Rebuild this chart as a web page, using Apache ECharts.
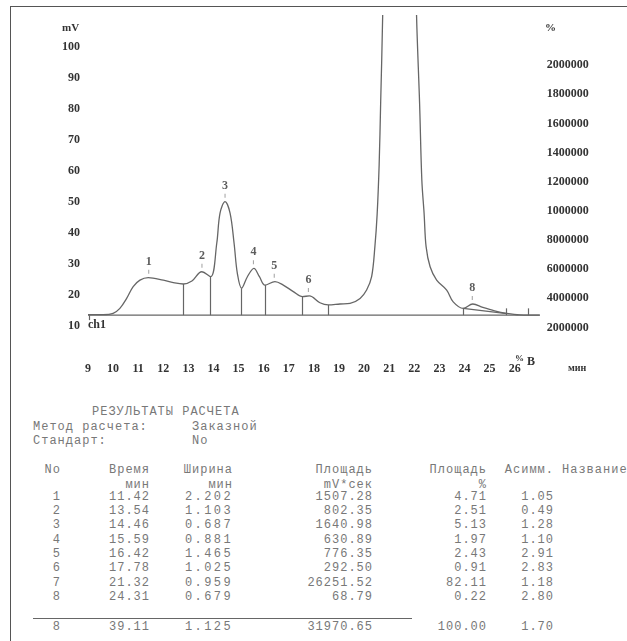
<!DOCTYPE html>
<html>
<head>
<meta charset="utf-8">
<script src="https://cdn.jsdelivr.net/npm/echarts@6/dist/echarts.min.js"></script>
<style>
  html, body { margin: 0; padding: 0; background: #fff; }
  #page { position: relative; width: 627px; height: 641px; overflow: hidden; }
  #frame { position: absolute; left: 10px; top: 6px; width: 700px; height: 700px;
           border-left: 1.5px solid #555; border-top: 1.5px solid #555; }
  #chart { position: absolute; left: 0; top: 0; width: 627px; height: 390px; }
  .t { position: absolute; font-family: "Liberation Mono", monospace; font-size: 12px;
       letter-spacing: 1px; color: #787878; line-height: 14px; white-space: pre; }
  #rule { position: absolute; left: 33px; top: 617.5px; width: 379px; height: 0;
          border-top: 1.5px solid #666; }
</style>
</head>
<body>
<div id="page">
  <div id="frame"></div>
  <div id="chart"></div>
  <div id="rule"></div>
</div>
<script>
// хроматограмма: время (мин) и сигнал (mV)
var curveTime = [9.0, 9.6, 10.0, 10.27, 10.54, 10.8, 11.07, 11.4, 12.0, 12.4, 12.8, 13.14, 13.53, 13.89,
  14.13, 14.26, 14.46, 14.66, 14.82, 14.95, 15.12, 15.35, 15.61, 15.83, 16.05, 16.45, 16.78, 17.18,
  17.55, 17.82, 18.24, 18.57, 19.04, 19.44, 19.84, 20.1, 20.3, 20.43, 20.52, 20.6, 20.66, 20.74, 20.85,
  21.0, 21.32, 21.6, 21.9, 22.09, 22.21, 22.3, 22.39, 22.47, 22.63, 22.89, 23.29, 23.55, 23.95, 24.33,
  24.73, 25.2, 25.68, 26.2, 27.0];
var curveMv = [13.6, 13.6, 14.0, 15.6, 18.8, 22.6, 24.7, 25.5, 24.7, 23.9, 23.45, 24.4, 27.4, 25.8,
  36.6, 46.3, 50.0, 46.3, 36.6, 26.9, 22.1, 25.8, 28.5, 25.8, 23.1, 24.2, 23.1, 21.0,
  19.4, 19.6, 17.4, 16.7, 17.0, 17.2, 18.8, 21.5, 25.8, 35.5, 46.0, 62.0, 82.0, 110.0, 170.0,
  290.0, 440.0, 330.0, 180.0, 110.0, 82.0, 57.0, 46.3, 35.5, 29.0, 24.7, 21.5, 17.7, 15.6, 17.0,
  15.9, 14.8, 14.0, 13.5, 13.4];

var baseMv = 13.4;
var dropTime = [12.8, 13.89, 15.12, 16.05, 17.55, 18.57, 23.95, 25.68, 26.54];
var dropTop = [23.45, 25.8, 22.1, 23.1, 19.4, 16.7, 15.6, 15.6, 15.6];
var startTick = [9.05, 11.8];
var peak8Base = [[23.95, 15.6], [25.68, 13.9]];

var peakLabel = ['1', '2', '3', '4', '5', '6', '8'];
var peakTime = [11.42, 13.54, 14.46, 15.59, 16.42, 17.78, 24.31];
var peakTop = [25.5, 27.4, 50.0, 28.5, 24.2, 19.6, 17.0];

var rightLabels = ['2000000', '4000000', '6000000', '8000000', '1000000',
  '1200000', '1400000', '1600000', '1800000', '2000000'];

// таблица результатов
var tabNo = [1, 2, 3, 4, 5, 6, 7, 8];
var tabTime = [11.42, 13.54, 14.46, 15.59, 16.42, 17.78, 21.32, 24.31];
var tabWidth = [2.202, 1.103, 0.687, 0.881, 1.465, 1.025, 0.959, 0.679];
var tabArea = [1507.28, 802.35, 1640.98, 630.89, 776.35, 292.50, 26251.52, 68.79];
var tabPct = [4.71, 2.51, 5.13, 1.97, 2.43, 0.91, 82.11, 0.22];
var tabAsym = [1.05, 0.49, 1.28, 1.10, 2.91, 2.83, 1.18, 2.80];
var total = { no: 8, time: 39.11, width: 1.125, area: 31970.65, pct: 100.00, asym: 1.70 };

var chart = echarts.init(document.getElementById('chart'));
var lbl = { fontFamily: 'Liberation Serif', fontWeight: 'bold', fontSize: 12, color: '#333' };

var curve = curveTime.map(function (t, i) { return [t, curveMv[i]]; });
var drops = dropTime.map(function (t, i) {
  return [{ coord: [t, baseMv] }, { coord: [t, dropTop[i]] }];
});
drops.push([{ coord: [startTick[0], baseMv] }, { coord: [startTick[0], startTick[1]] }]);

var option = {
  animation: false,
  grid: { left: 88, right: 87.2, top: 15.7, bottom: 33.3 },
  xAxis: {
    type: 'value', min: 9, max: 27, interval: 1,
    axisLine: { show: false }, axisTick: { show: false }, splitLine: { show: false },
    axisLabel: Object.assign({ margin: 6, showMaxLabel: false }, lbl)
  },
  yAxis: [
    {
      type: 'value', min: 0, max: 110, interval: 10,
      axisLine: { show: false }, axisTick: { show: false }, splitLine: { show: false },
      axisLabel: Object.assign({
        margin: 8,
        formatter: function (v) { return (v >= 10 && v <= 100) ? v : ''; }
      }, lbl)
    },
    {
      type: 'value', position: 'right', min: -1, max: 10.694, interval: 1,
      axisLine: { show: false }, axisTick: { show: false }, splitLine: { show: false },
      axisLabel: Object.assign({
        margin: 7, showMaxLabel: false,
        formatter: function (v) { return rightLabels[v] || ''; }
      }, lbl)
    }
  ],
  series: [
    {
      type: 'line', data: curve, smooth: 0.35, symbol: 'none', clip: true, z: 3,
      lineStyle: { color: '#666', width: 1.3 }
    },
    {
      type: 'line', data: [[9, baseMv], [27, baseMv]], symbol: 'none', z: 2,
      lineStyle: { color: '#666', width: 1.3 },
      markLine: {
        silent: true, symbol: ['none', 'none'], label: { show: false },
        lineStyle: { color: '#666', width: 1.2, type: 'solid' },
        data: drops
      }
    },
    {
      type: 'line', data: peak8Base, symbol: 'none', z: 2,
      lineStyle: { color: '#666', width: 1.1 }
    },
    {
      type: 'scatter', z: 4,
      data: peakTime.map(function (t, i) { return [t, peakTop[i]]; }),
      symbol: 'rect', symbolSize: [1, 4], symbolOffset: [0, -6],
      itemStyle: { color: '#888' },
      label: {
        show: true, position: 'top', distance: 2, fontSize: 12,
        fontFamily: 'Liberation Serif', fontWeight: 'bold', color: '#333',
        formatter: function (p) { return peakLabel[p.dataIndex]; }
      }
    }
  ],
  graphic: [
    { type: 'text', x: 62, y: 28, style: { text: 'mV', font: 'bold 11px "Liberation Serif"', fill: '#333', verticalAlign: 'middle' } },
    { type: 'text', x: 545, y: 28, style: { text: '%', font: 'bold 11px "Liberation Serif"', fill: '#333', verticalAlign: 'middle' } },
    { type: 'text', x: 88, y: 325, style: { text: 'ch1', font: 'bold 12px "Liberation Serif"', fill: '#333', verticalAlign: 'middle' } },
    { type: 'text', x: 515, y: 359, style: { text: '%', font: 'bold 9px "Liberation Serif"', fill: '#333', verticalAlign: 'middle' } },
    { type: 'text', x: 527, y: 362, style: { text: 'B', font: 'bold 12px "Liberation Serif"', fill: '#333', verticalAlign: 'middle' } },
    { type: 'text', x: 568, y: 368, style: { text: 'мин', font: 'bold 10px "Liberation Serif"', fill: '#333', verticalAlign: 'middle' } }
  ]
};
chart.setOption(option);

// текстовый блок под графиком
var page = document.getElementById('page');
function put(text, x, base, right, spacing) {
  var d = document.createElement('div');
  d.className = 't';
  d.textContent = text;
  d.style.top = (base - 10.2) + 'px';
  if (right) d.style.right = (627 - x - 1) + 'px';
  else d.style.left = x + 'px';
  if (spacing) d.style.letterSpacing = spacing + 'px';
  page.appendChild(d);
}
var colX = [60, 149, 232, 372, 486, 553];

put('РЕЗУЛЬТАТЫ РАСЧЕТА', 92, 415);
put('Метод расчета:', 33, 430);
put('Заказной', 192, 430);
put('Стандарт:', 33, 444);
put('No', 192, 444);

var hdr1 = ['No', 'Время', 'Ширина', 'Площадь', 'Площадь', 'Асимм.'];
var hdr2 = ['', 'мин', 'мин', 'mV*сек', '%', ''];
hdr1.forEach(function (h, i) { put(h, colX[i], 473.3, true); });
put('Название', 562, 473.3);
hdr2.forEach(function (h, i) { if (h) put(h, colX[i], 488.3, true); });

function row(vals, base) {
  put(String(vals[0]), colX[0], base, true);
  put(vals[1].toFixed(2), colX[1], base, true);
  put(vals[2].toFixed(3), colX[2], base, true, 2.4);
  put(vals[3].toFixed(2), colX[3], base, true);
  put(vals[4].toFixed(2), colX[4], base, true);
  put(vals[5].toFixed(2), colX[5], base, true);
}
tabNo.forEach(function (n, i) {
  row([n, tabTime[i], tabWidth[i], tabArea[i], tabPct[i], tabAsym[i]], 500 + 14.29 * i);
});
row([total.no, total.time, total.width, total.area, total.pct, total.asym], 630);
</script>
</body>
</html>
